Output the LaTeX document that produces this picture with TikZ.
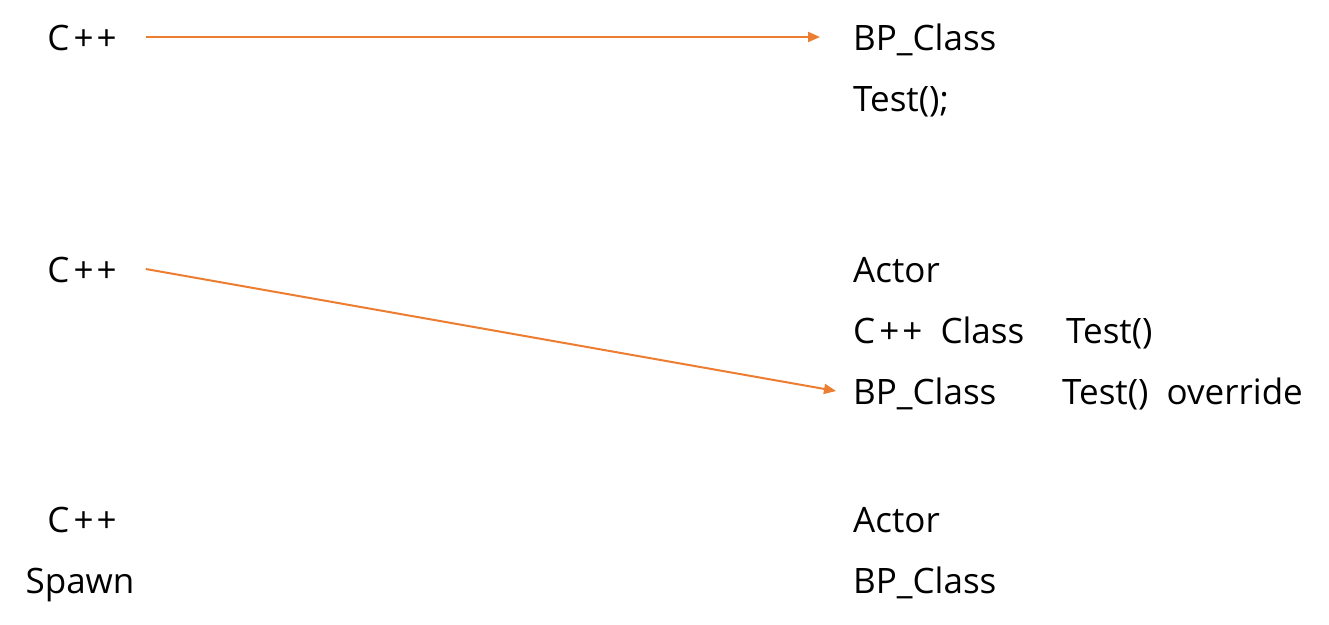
\documentclass[tikz,border=0pt]{standalone}
\usepackage{fontspec}
\setmainfont{Open Sans}
\usetikzlibrary{arrows.meta}
\definecolor{arroworange}{HTML}{ED7D31}
\newcommand{\cpp}{C\kern4pt+\kern3pt+}
\begin{document}
\begin{tikzpicture}[x=1pt,y=-1pt,
  lbl/.style={inner sep=0pt,font=\fontsize{35}{42}\selectfont,text height=26pt,text depth=0pt},
  conn/.style={draw=arroworange,line width=2pt,-{Triangle[length=12pt,width=10pt]}}]
\useasboundingbox (0,0) rectangle (1329,624);
% left column
\node[lbl,anchor=base] (cpp1) at (82,50) {\cpp};
\node[lbl,anchor=base] (cpp2) at (82,282) {\cpp};
\node[lbl,anchor=base] (cpp3) at (82,532) {\cpp};
\node[lbl,anchor=base] (spawn) at (80,593) {Spawn};
% right column
\node[lbl,anchor=base west] (bp1) at (853,50) {BP\_Class};
\node[lbl,anchor=base west] (test1) at (853,111) {Test();};
\node[lbl,anchor=base west] (actor2) at (853,282) {Actor};
\node[lbl,anchor=base west] (cppclass) at (853,343) {\cpp\ \ Class};
\node[lbl,anchor=base west] (test2) at (1066,343) {Test()};
\node[lbl,anchor=base west] (bp2) at (853,404) {BP\_Class};
\node[lbl,anchor=base west] (test3) at (1062,404) {Test()\ \ override};
\node[lbl,anchor=base west] (actor3) at (853,532) {Actor};
\node[lbl,anchor=base west] (bp3) at (853,593) {BP\_Class};
% connectors
\draw[conn] ([xshift=29pt]cpp1.east) -- ([xshift=-33pt]bp1.west);
\draw[conn] ([xshift=29pt]cpp2.east) -- ([xshift=-17pt]bp2.west);
\end{tikzpicture}
\end{document}
